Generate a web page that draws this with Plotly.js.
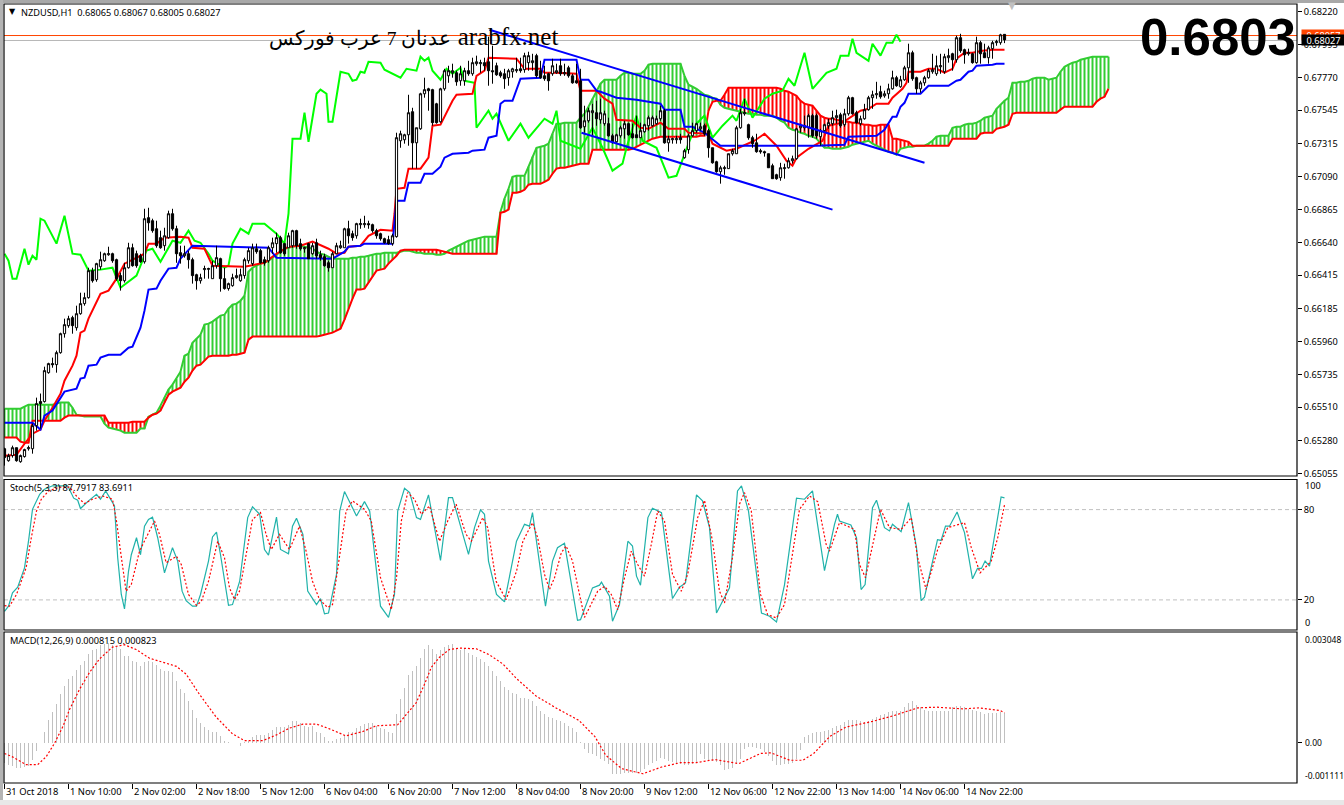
<!DOCTYPE html>
<html><head><meta charset="utf-8">
<script src="https://cdn.plot.ly/plotly-3.0.1.min.js"></script>
<style>html,body{margin:0;padding:0;background:#fff;overflow:hidden}#c{width:1344px;height:805px}</style>
</head><body><div id="c"></div>
<script>
// Prices in points (1 point = 0.00001). Index = hourly bar number.
const high=[65233,65192,65247,65233,65186,65226,65247,65398,65576,65604,
65788,65815,65850,65898,66021,66117,66137,66137,66206,66295,
66295,66466,66466,66500,66576,66569,66610,66569,66528,66432,
66500,66637,66631,66583,66562,66870,66877,66802,66788,66720,
66740,66857,66870,66754,66617,66617,66583,66535,66425,66425,
66480,66466,66514,66617,66535,66466,66364,66425,66460,66460,
66535,66603,66631,66631,66596,66542,66617,66672,66706,66685,
66637,66706,66726,66726,66665,66610,66637,66637,66665,66583,
66562,66514,66576,66637,66651,66740,66788,66720,66774,66802,
66822,66788,66768,66733,66706,66672,66685,66699,67391,67405,
67384,67651,67562,67425,67665,67768,67699,67692,67596,67699,
67829,67850,67864,67816,67850,67836,67884,67905,67919,67891,
67905,68049,67987,67871,67816,67829,67829,67836,67905,67905,
67939,67946,67932,67932,67884,67850,67802,67898,67864,67898,
67864,67850,67795,67864,67829,67576,67562,67589,67610,67624,
67542,67494,67384,67384,67439,67473,67460,67453,67508,67460,
67453,67508,67508,67508,67576,67555,67370,67357,67370,67384,
67281,67384,67460,67460,67460,67453,67418,67288,67199,67165,
67165,67247,67281,67439,67555,67624,67453,67370,67384,67281,
67268,67247,67179,67110,67185,67179,67220,67234,67425,67453,
67508,67521,67521,67521,67418,67453,67487,67542,67549,67528,
67555,67644,67637,67542,67508,67589,67644,67679,67740,67713,
67679,67727,67816,67781,67781,67850,68001,67953,67775,67747,
67781,67829,67932,67919,67932,67932,67967,67939,68056,68069,
67967,67967,67939,68049,68021,68001,67987,68021,68028,68069,68067];
const open=[65226,65144,65179,65233,65137,65172,65226,65226,65384,65549,
65549,65747,65809,65802,65884,66014,66069,66124,66055,66151,
66220,66261,66446,66384,66473,66514,66555,66562,66521,66412,
66377,66466,66603,66562,66548,66507,66809,66788,66733,66672,
66617,66672,66836,66733,66569,66548,66562,66521,66418,66377,
66453,66455,66391,66480,66528,66391,66323,66343,66398,66377,
66412,66514,66494,66596,66583,66521,66514,66603,66631,66672,
66631,66603,66617,66720,66631,66596,66631,66562,66637,66555,
66542,66500,66466,66562,66603,66603,66733,66699,66685,66761,
66761,66768,66761,66720,66699,66665,66658,66631,66679,67336,
67343,67377,67535,67322,67418,67658,67692,67686,67589,67466,
67692,67781,67802,67802,67747,67747,67816,67795,67864,67864,
67871,67877,67816,67850,67802,67795,67768,67809,67816,67829,
67823,67871,67871,67919,67816,67781,67795,67795,67802,67850,
67795,67836,67781,67747,67747,67432,67473,67528,67528,67480,
67453,67453,67370,67329,67370,67418,67453,67384,67377,67357,
67398,67439,67439,67453,67487,67542,67322,67343,67343,67357,
67220,67275,67370,67405,67418,67439,67405,67288,67192,67124,
67145,67145,67247,67247,67425,67521,67446,67357,67322,67268,
67261,67247,67165,67103,67083,67145,67151,67199,67213,67425,
67425,67425,67508,67508,67364,67405,67439,67453,67494,67514,
67446,67521,67631,67528,67453,67487,67549,67631,67651,67672,
67644,67658,67692,67768,67706,67754,67836,67939,67768,67692,
67733,67768,67809,67795,67843,67809,67905,67932,67891,68042,
67960,67932,67932,67871,68008,67939,67905,67967,68008,68008,68065];
const close=[65165,65179,65233,65144,65179,65220,65233,65384,65535,65535,
65761,65809,65802,65884,66014,66076,66117,66069,66151,66220,
66261,66446,66377,66494,66521,66562,66562,66514,66391,66377,
66466,66603,66480,66480,66507,66802,66774,66720,66617,66603,
66685,66836,66733,66562,66548,66562,66521,66412,66377,66398,
66460,66460,66480,66535,66391,66323,66357,66398,66412,66418,
66521,66583,66603,66576,66500,66500,66603,66637,66672,66569,
66562,66685,66720,66617,66596,66603,66528,66617,66548,66535,
66480,66466,66562,66617,66617,66733,66685,66672,66768,66768,
66768,66761,66720,66685,66665,66637,66631,66685,67357,67384,
67377,67528,67322,67425,67658,67686,67679,67460,67460,67692,
67816,67816,67816,67740,67795,67816,67795,67871,67877,67871,
67850,67816,67809,67788,67781,67761,67816,67829,67823,67816,
67919,67919,67884,67781,67768,67761,67747,67850,67816,67795,
67802,67781,67733,67733,67425,67473,67542,67542,67487,67528,
67521,67370,67329,67377,67425,67453,67377,67357,67357,67405,
67446,67494,67494,67487,67542,67322,67350,67350,67350,67343,
67268,67370,67405,67453,67432,67384,67288,67185,67124,67151,
67151,67247,67268,67425,67528,67528,67357,67316,67261,67261,
67254,67151,67076,67076,67151,67151,67199,67213,67418,67439,
67439,67508,67370,67370,67405,67446,67460,67494,67508,67439,
67521,67631,67521,67460,67487,67549,67631,67651,67658,67637,
67658,67692,67768,67713,67754,67836,67939,67761,67692,67733,
67768,67816,67823,67850,67850,67912,67919,67891,68042,67953,
67925,67939,67871,68008,67932,67905,67973,68008,68015,68062,68027];
const low=[65110,65137,65165,65137,65130,65165,65213,65192,65350,65364,
65542,65740,65781,65747,65877,65987,66055,66014,66035,66144,
66206,66254,66364,66370,66453,66507,66548,66500,66377,66309,
66364,66460,66473,66466,66500,66494,66720,66706,66603,66596,
66583,66665,66720,66500,66494,66535,66460,66357,66316,66357,
66391,66391,66391,66460,66302,66316,66309,66336,66391,66370,
66391,66494,66480,66562,66494,66480,66500,66562,66569,66562,
66548,66603,66603,66596,66583,66569,66528,66555,66528,66514,
66473,66439,66466,66562,66596,66603,66631,66651,66665,66733,
66740,66733,66706,66665,66651,66631,66624,66617,66672,67288,
67316,67302,67145,67145,67411,67631,67542,67439,67453,67460,
67679,67733,67768,67713,67713,67713,67781,67781,67850,67802,
67816,67713,67727,67781,67768,67692,67713,67768,67802,67802,
67802,67816,67816,67768,67761,67747,67679,67781,67795,67781,
67781,67768,67727,67727,67418,67391,67460,67370,67439,67453,
67439,67364,67316,67322,67357,67350,67370,67350,67357,67357,
67391,67405,67432,67446,67473,67316,67261,67316,67316,67316,
67213,67247,67364,67391,67405,67370,67220,67179,67117,67042,
67103,67145,67234,67247,67418,67508,67343,67288,67254,67247,
67227,67151,67076,67069,67062,67076,67145,67179,67206,67391,
67405,67357,67357,67350,67302,67391,67418,67439,67453,67425,
67432,67508,67514,67453,67439,67480,67542,67555,67624,67624,
67631,67624,67686,67706,67699,67747,67733,67747,67658,67665,
67713,67761,67795,67781,67795,67795,67871,67816,67871,67939,
67864,67919,67864,67864,67864,67905,67864,67898,67987,67994,68005];

const senkouA=[65500,65500,65500,65500,65500,65514,65528,65528,65528,65528,65528,65528,65528,65535,65542,65542,65542,65507,65459,65453,
65446,65446,65446,65446,65446,65398,65370,65364,65357,65350,65336,65336,65336,65336,65364,65364,65446,65459,65473,65521,
65576,65631,65665,65706,65754,65863,65877,65952,65980,66007,66076,66083,66097,66117,66138,66144,66185,66213,66220,66240,
66274,66439,66466,66480,66494,66500,66514,66535,66555,66576,66596,66603,66610,66617,66617,66610,66603,66596,66576,66562,
66555,66542,66528,66528,66528,66528,66528,66535,66535,66542,66542,66548,66555,66562,66562,66569,66569,66569,66569,66576,
66583,66583,66576,66569,66569,66562,66562,66562,66555,66555,66562,66583,66596,66610,66624,66637,66651,66658,66665,66672,
66679,66679,66679,66679,66850,66939,67007,67089,67096,67096,67096,67158,67227,67288,67295,67302,67316,67384,67453,67453,
67460,67460,67460,67460,67494,67521,67569,67624,67679,67727,67754,67754,67754,67754,67781,67802,67802,67795,67795,67795,
67816,67857,67864,67864,67864,67864,67864,67864,67864,67864,67781,67720,67706,67692,67672,67651,67644,67631,67624,67583,
67562,67555,67549,67542,67535,67528,67521,67521,67514,67514,67508,67508,67508,67494,67473,67460,67425,67411,67405,67391,
67384,67370,67364,67350,67316,67288,67288,67281,67281,67281,67288,67295,67309,67316,67322,67329,67336,67316,67302,67288,
67275,67261,67254,67240,67281,67288,67295,67295,67302,67302,67302,67316,67336,67364,67370,67370,67370,67425,67432,67432,
67446,67453,67453,67460,67473,67494,67501,67508,67555,67583,67610,67631,67733,67733,67740,67740,67747,67761,67768,67768,
67768,67754,67761,67768,67809,67843,67857,67871,67877,67891,67898,67905,67912,67912,67912,67912,67912];
const senkouB=[65302,65302,65302,65302,65274,65267,65267,65418,65418,65418,65418,65418,65418,65418,65418,65439,65453,65453,65453,65453,
65453,65453,65453,65453,65453,65453,65404,65404,65404,65404,65404,65404,65411,65411,65411,65411,65439,65459,65466,65487,
65542,65596,65617,65631,65644,65685,65713,65761,65795,65802,65829,65857,65863,65863,65863,65863,65863,65870,65870,65877,
65884,65973,65994,65994,65994,65994,65994,65994,65994,65994,65994,65994,65994,65994,65994,65994,65994,65994,65994,66000,
66007,66014,66021,66035,66048,66110,66185,66254,66316,66316,66323,66364,66405,66446,66453,66460,66494,66521,66548,66583,
66589,66589,66589,66589,66589,66589,66589,66589,66589,66583,66576,66569,66562,66562,66562,66562,66562,66562,66562,66562,
66562,66562,66562,66562,66843,66850,66864,66980,66980,66987,67000,67035,67041,67041,67041,67055,67069,67110,67145,67151,
67151,67158,67165,67172,67179,67179,67179,67275,67275,67275,67275,67275,67275,67275,67275,67275,67275,67281,67295,67309,
67322,67336,67350,67357,67364,67364,67364,67364,67364,67364,67364,67364,67364,67364,67370,67370,67542,67603,67610,67610,
67651,67699,67699,67699,67699,67699,67699,67699,67699,67699,67699,67699,67699,67699,67692,67679,67672,67658,67644,67610,
67590,67583,67576,67542,67508,67494,67487,67487,67480,67473,67466,67466,67460,67460,67453,67446,67446,67439,67439,67446,
67446,67446,67350,67350,67343,67336,67329,67302,67302,67302,67302,67302,67302,67302,67302,67302,67302,67350,67350,67350,
67350,67350,67350,67350,67384,67391,67391,67391,67418,67425,67432,67446,67521,67528,67528,67528,67528,67528,67528,67528,
67528,67528,67528,67528,67549,67569,67569,67569,67569,67569,67569,67569,67569,67603,67624,67637,67692];

const tenkanIdx=[0,3,5,7,9,10,12,14,15,17,18,19,20,21,24,26,28,30,35,36,38,40,44,46,47,50,52,60,65,68,71,74,77,81,83,85,86,89,91,94,97,97.5,98,100,101,104,106,107,109,112,113,117,118,120,121,128,130,134,135,138,143,144,148,150,152,153,157,159,161,164,166,170,171,176,177,180.5,183,186,187.5,190,193,195.5,197,198,201,204.5,206,209.5,214,216,218,221,222,224.5,225.5,226,229,231,233,235,237,238,240,242,244.5,247,250];
const tenkan=[65178,65185,65260,65329,65357,65418,65507,65603,65692,65795,65863,66021,66035,66117,66288,66309,66391,66494,66562,66631,66631,66672,66679,66672,66603,66596,66480,66473,66500,66562,66610,66617,66645,66596,66562,66569,66610,66617,66685,66726,66720,66836,67007,67014,67145,67145,67220,67439,67446,67610,67651,67658,67781,67816,67905,67898,67829,67829,67802,67802,67795,67679,67679,67624,67590,67480,67473,67425,67418,67460,67418,67418,67391,67384,67316,67268,67281,67316,67336,67384,67302,67199,67165,67220,67281,67336,67439,67460,67542,67555,67590,67590,67631,67692,67733,67809,67809,67829,67829,67802,67829,67898,67939,67939,67953,67960,67960];

const kijunIdx=[0,7,9,10,12,15,18,19,20,21,23,24,26,29,31,32,34,35,36,38,39,41,43,44,47,66,68,82,85,86,89,90,97,98,100,101,104,105,107,109,110,112,116,117,120,121,123,124,125,127,129,134,135,143,144,146,148,149,153,158,164,165,169,170,172,175,179,203,210,211,218,220,222,223,224,225,226,229,231,236,238,239,241,242,243,247,248,250];
const kijun=[65404,65404,65357,65453,65487,65617,65637,65706,65713,65795,65802,65850,65870,65870,65918,65925,66055,66172,66316,66323,66377,66460,66466,66528,66617,66603,66535,66528,66576,66610,66617,66631,66631,66925,66925,67048,67048,67110,67110,67158,67220,67247,67254,67268,67275,67357,67370,67590,67610,67610,67761,67768,67891,67891,67754,67754,67679,67672,67631,67617,67590,67549,67549,67432,67432,67391,67302,67302,67309,67364,67370,67411,67501,67501,67569,67596,67658,67658,67713,67713,67747,67754,67809,67816,67850,67857,67864,67864];

const chikouIdx=[0,1,2,3,5,6,7,8,9,10,13,15,17,19,21,24,27,29,33,35.5,37,39,42,44,46,47.5,49,51,52,55,56,57,59,61,62,65,68,70,71,72,74,75,76,78,79,80.5,81,82,84,86,87,88,89,90,91,94,95,99,100.5,103,104,105,106,107,109,110.5,112,114,115,117.5,118,121,122,123,126,129,131,135,137,138,139,144,147,149.5,152,154.5,155.5,158,159.5,163,166,168,171,173,175,177,179.5,182,183,185,187,190,192,194.5,196,197.5,200,202,205.5,208,209,211,212,213,216,217,219,220.5,222,223,224];
const chikou=[66562,66514,66391,66391,66596,66487,66548,66521,66802,66788,66631,66822,66562,66555,66446,66453,66466,66329,66412,66583,66596,66507,66651,66637,66720,66651,66637,66562,66514,66466,66480,66631,66733,66699,66768,66768,66699,66631,66836,67350,67350,67528,67329,67658,67686,67658,67466,67466,67809,67795,67747,67754,67809,67802,67877,67871,67823,67768,67829,67816,67912,67884,67905,67816,67754,67829,67795,67836,67747,67733,67425,67542,67487,67521,67336,67453,67357,67487,67453,67542,67336,67281,67425,67288,67131,67179,67288,67508,67336,67288,67083,67096,67316,67453,67508,67357,67439,67508,67473,67624,67494,67624,67658,67679,67761,67713,67939,67692,67802,67829,67919,67919,68035,67939,67884,68001,67919,68008,68008,68062,68015];

const trendUpperIdx=[121.25,230], trendUpper=[68096,67185];
const trendLowerIdx=[144.25,207], trendLower=[67391,66864];
const askPoints=68057, bidPoints=68027, bidLinePoints=68023;

const stochIdx=[0,1,2,3.3,5,6,7,8.8,10,12,15.8,17.3,18.3,19,21,23,24,25.3,27.5,28.3,29.2,30,31,31.7,33,34,35,36,37,38.3,40,42,43.3,44.4,45.4,47,48,49,51,52,53,54,56,57,58.8,60.8,62,63.8,65,66,68,69,71,72,73,74.6,75.8,78,79,80,81,83,83.8,85,88,90,91.3,94,96,97.5,98.3,100,101.3,103,104,106,109,111,112,116,117.5,119,120,121,123,125,128,130,131.25,132,135.25,137,138.25,140,143.25,144,147,148.75,149.25,151.25,152,153.75,155.85,157,158,159,160.85,162,164.25,167,168.75,170.25,173,174.5,176.25,178,181.25,183.25,184.25,186,189.25,191.25,193,195,198,200,202,202.75,205,207.5,208.25,208.75,211.6,213,214.15,215.15,217,218,220,221.25,222,224.15,226,228,229.15,230,233.25,234.15,235.25,236.25,238.15,240,242,243.25,244.25,245.15,246.25,249.15,250];
const stochMain=[12.4,15.8,24.7,28.4,41.3,59,80.2,90.2,93.6,95.8,95.8,87.6,86.2,80.7,85.8,90.2,86.9,92.4,82.4,48,23.6,14,39,50,61.3,50,69,73.5,75,61.3,38,54.7,45.8,25.8,19.5,15.8,15.8,23.6,45.8,61.8,65,50,16.4,16.9,32.4,74.7,81.8,76.9,53.5,49.8,75,53.5,50.7,69,74.2,63.5,25.8,16.9,20.9,10.7,11.3,37,79,92,75.8,85.3,79,15.8,8.4,23.6,79,94.2,91.3,74.7,73.5,89.8,46.2,88,88,50.2,68,79.8,76.9,45.8,23.6,18.7,59,70.2,69,78,15.8,45.8,54.7,57.6,6.4,6.9,28,29.8,31.8,22.4,5.8,16.9,59,55.8,35.8,29.8,74.7,80.9,78,20.9,28.4,31.3,89.8,85.8,68,11.3,28,92.4,95.8,79,11.3,9.1,5.3,30,87.6,86.9,92.4,79,39.5,70.2,76.9,72.4,69.8,61.3,26.9,30.2,81.3,86.2,68,65.8,70.2,65.3,84.7,54.7,19.5,21.8,60,59.5,69,69,78.4,64.7,34,40.9,40.9,45.8,42.4,88.4,87.79];
const stochSigIdx=[0,1.25,3,5.4,6.7,8,9.2,11,13.75,16.25,18,20,22,24.6,27,28,29,30.4,31.7,33.75,35.4,37.5,38.75,40.4,43,44.2,46,48,49.2,51,53.3,55,56.25,57.5,58.75,60.8,62,64,65.4,66.7,68.75,71.25,73.75,75.4,77,78.75,80.8,82,83.75,85.4,87,90,91.7,94,96.7,98,99.2,100.8,102.5,104.2,106.25,108.75,110.8,112.9,115.4,116.7,119.6,120.8,122.9,125.4,128,129.6,132,133.3,135,136.25,137.5,139.2,140.4,142,143.75,145,148.3,150,151.7,153.3,155,156.7,158.3,160,161.7,163.3,165,167,169.2,170.8,173.3,175,177,178.75,180,182,183.75,185,186.7,189,190.8,193,195,197,198.75,201.25,203.3,205.4,206.25,208.75,212.5,213.75,215.25,216.7,219,221.25,224.2,226.7,228.3,230.4,233.3,235.8,240,241.7,243.9,246.7,248.3,250];
const stochSignal=[16.2,15.8,23.6,41.3,61.3,79,86.9,92.4,95,95,89,84,86.9,89,86.9,72.4,52.4,25.8,30.2,52.4,61.3,72.4,63.5,44.7,49,43.5,23.6,16.4,19,32.4,59,48,28,20.2,25.8,57,73.5,78,63.5,53.5,63.5,53.5,69,52.4,32.4,20.2,15,16.9,48,79,85.8,80.2,72.4,34.7,13.5,34.7,72.4,91.3,86.9,76.9,82.4,59,72.4,83.6,63.5,59,74.7,68,32.4,20.2,39,59,71.3,61.3,37,27,34.7,51.3,55.8,45.8,23.6,8.4,25.8,29,23.6,13.5,34.7,52.4,43.5,35.8,56.9,79,72.4,37,25.8,37,74.7,86.2,59,25.8,18,48,83.6,91.3,79,23.6,10.2,8,16.9,52.4,80.2,89,85.3,57,52.4,71.3,66.9,43.5,34.7,52.4,80.2,68,66.9,74.7,48,27,53.5,68,71.3,54.7,38,45.8,61.3,83.1];
const stochLevels=[80,20];

// MACD in millionths
const macdHist=[-558,-623,-651,-688,-698,-670,-651,-484,-223,0,307,614,837,1060,1330,1562,1767,1841,2009,2139,
2260,2446,2539,2585,2678,2725,2753,2678,2632,2585,2381,2399,2260,2213,2102,2232,2260,2213,2139,2027,
1981,1981,1934,1702,1488,1358,1144,911,679,539,428,353,307,307,186,47,28,0,-19,-84,
28,56,149,214,214,214,279,353,428,428,428,493,586,586,539,465,428,446,307,260,
149,56,56,102,121,214,307,307,400,446,521,539,539,446,400,372,307,279,800,1209,
1516,1860,1962,2102,2325,2567,2678,2567,2446,2539,2632,2678,2706,2604,2539,2567,2474,2418,2353,2306,
2232,2120,1981,1841,1702,1544,1451,1358,1330,1237,1237,1190,1144,1004,865,800,707,679,632,586,
539,465,400,307,28,-177,-298,-316,-372,-437,-502,-595,-856,-874,-856,-837,-837,-837,-828,-809,
-716,-623,-558,-512,-428,-446,-502,-539,-577,-595,-623,-614,-595,-530,-316,-437,-465,-502,-530,-623,
-744,-716,-688,-577,-437,-186,-121,-112,-149,-186,-260,-372,-502,-605,-614,-595,-577,-558,-437,-205,
149,214,279,298,307,335,353,409,446,484,558,623,632,632,586,558,605,651,707,763,
800,837,865,865,865,977,1097,1135,1032,986,911,865,865,865,865,874,884,977,1023,1014,
986,930,911,884,846,800,809,818,828,837,815];
const macdSigIdx=[0,2,5.4,8.3,10.4,12.5,14.6,16.25,18.75,21.25,23.75,27,30,32.9,36.25,39.6,43,45.4,48.75,52.9,57,60,64.6,68,71.25,74.6,78,81.25,85.4,89.6,92.9,98.3,100.8,102.9,105,106.7,108.75,111.25,113.75,118,121.25,124.6,128,132.9,138.3,143.6,147.6,150.3,154.3,159.6,164.3,169,173,177.6,183.6,189,191.6,196.3,199.6,202.3,206.3,210.3,217,222.3,228.3,233,239.6,243.6,249,250];
const macdSignal=[-298,-391,-605,-605,-391,-19,446,911,1469,1934,2306,2632,2697,2567,2325,2213,2102,1888,1330,707,242,56,56,214,400,511,511,381,186,307,465,493,818,1097,1609,2074,2353,2567,2604,2585,2418,2167,1767,1283,930,614,167,-344,-716,-856,-670,-549,-549,-465,-577,-298,-279,-484,-484,-298,167,428,586,744,958,977,930,958,884,823];

const priceTicks=[0.6822,0.67995,0.6777,0.67545,0.67315,0.6709,0.66865,0.6664,0.66415,0.66185,0.6596,0.65735,0.6551,0.6528,0.65055];
const dateTicks=["31 Oct 2018","1 Nov 10:00","2 Nov 02:00","2 Nov 18:00","5 Nov 12:00","6 Nov 04:00","6 Nov 20:00","7 Nov 12:00","8 Nov 04:00","8 Nov 20:00","9 Nov 12:00","12 Nov 06:00","12 Nov 22:00","13 Nov 14:00","14 Nov 06:00","14 Nov 22:00"];

const P=a=>a.map(v=>v/1e5), M=a=>a.map(v=>v/1e6);
const bars=open.map((_,i)=>i);
const tf="Noto Sans, Liberation Sans, sans-serif";
const L=1293,Htot=780;
const px=x=>(x-4)/L, py=y=>(784-y)/Htot;

// cloud hatch
function hatch(up){
  const x=[],y=[];
  senkouA.forEach((a,i)=>{const b=senkouB[i];
    if(b===undefined)return;
    if((a>=b)===up){x.push(i,i,null);y.push(a/1e5,b/1e5,null);}
  });
  return {x,y,type:'scatter',mode:'lines',line:{color:up?'#32cd32':'#ff0000',width:2},hoverinfo:'skip',showlegend:false,xaxis:'x',yaxis:'y'};
}
const line=(x,y,color,width,yaxis,dash)=>({x,y,type:'scatter',mode:'lines',line:{color,width,dash:dash||'solid'},hoverinfo:'skip',showlegend:false,xaxis:'x',yaxis});

const traces=[
 hatch(true),hatch(false),
 line(senkouA.map((_,i)=>i),P(senkouA),'#32cd32',2,'y'),
 line(senkouB.map((_,i)=>i),P(senkouB),'#ff0000',2,'y'),
 line(chikouIdx,P(chikou),'#00ff00',2,'y'),
 line(tenkanIdx,P(tenkan),'#ff0000',2,'y'),
 line(kijunIdx,P(kijun),'#0000ff',2,'y'),
 {type:'candlestick',x:bars,open:P(open),high:P(high),low:P(low),close:P(close),xaxis:'x',yaxis:'y4',
  increasing:{line:{color:'#000',width:1},fillcolor:'#fff'},decreasing:{line:{color:'#000',width:1},fillcolor:'#000'},
  whiskerwidth:0,hoverinfo:'skip',showlegend:false},
 line(trendUpperIdx,P(trendUpper),'#0000ff',2,'y4'),
 line(trendLowerIdx,P(trendLower),'#0000ff',2,'y4'),
 line(stochIdx,stochMain,'#20b2aa',1.2,'y2'),
 line(stochSigIdx,stochSignal,'#ff0000',1.2,'y2','2px,2px'),
 {type:'bar',x:bars,y:M(macdHist),xaxis:'x',yaxis:'y3',width:0.25,marker:{color:'#c0c0c0',line:{width:0}},hoverinfo:'skip',showlegend:false},
 line(macdSigIdx,M(macdSignal),'#ff0000',1.2,'y3','2px,2px')
];

const frame=(y0,y1)=>({type:'rect',xref:'paper',yref:'paper',x0:0,x1:1,y0:py(y1),y1:py(y0),line:{color:'#000',width:1.2},fillcolor:'rgba(0,0,0,0)',layer:'above'});
const hl=(yref,v,color,dash)=>({type:'line',xref:'paper',yref,x0:0,x1:1,y0:v,y1:v,line:{color,width:1,dash:dash||'solid'},layer:'below'});
const edge=(x0,x1,y0,y1,c)=>({type:'rect',xref:'paper',yref:'paper',x0:px(x0),x1:px(x1),y0:py(y1),y1:py(y0),line:{width:0},fillcolor:c,layer:'above'});

const FS=9.2;
const label=(x,y,text,o)=>Object.assign({xref:'paper',yref:'paper',x:px(x),y:py(y),text,showarrow:false,xanchor:'left',yanchor:'middle',font:{family:tf,size:FS,color:'#000'},borderpad:0},o||{});
const small={font:{family:tf,size:8.5,color:'#000'}};

const annotations=[
 label(8,12,'▼',{font:{family:'DejaVu Sans',size:8,color:'#000'}}),
 label(20,12.5,'NZDUSD,H1  0.68065 0.68067 0.68005 0.68027'),
 label(9,487,'Stoch(5,3,3) 87.7917 83.6911'),
 label(9,640,'MACD(12,26,9) 0.000815 0.000823'),
 label(1007,6,'▼',{font:{family:'DejaVu Sans',size:10,color:'#c0c0c0'}}),
 label(268,37,'<span style="font-size:19.6px">عدنان 7 عرب فوركس</span> arabfx.net',{font:{family:'Liberation Serif, DejaVu Serif, serif',size:25,color:'#000'}}),
 label(1297,38,'<b>0.6803</b>',{xanchor:'right',font:{family:'Liberation Sans',size:51,color:'#000'}}),
 label(1304,485,'100'),label(1304,622,'0'),
 label(1304,639,'0.003048',small),label(1304,742,'0.00',small),label(1304,775,'-0.001111',small),
 label(1301,35,(askPoints/1e5).toFixed(5),{bgcolor:'#ff4500',font:{family:tf,size:FS,color:'#fff'},width:43,height:10,align:'center'}),
 label(1301,40.5,(bidPoints/1e5).toFixed(5),{bgcolor:'#000',font:{family:tf,size:FS,color:'#fff'},width:43,height:10,align:'center'})
].concat(dateTicks.map((t,i)=>label(5+64*i,791.5,t,{font:{family:tf,size:9.4,color:'#000'}})));

const layout={
 width:1344,height:805,paper_bgcolor:'#fff',plot_bgcolor:'#fff',showlegend:false,dragmode:false,
 margin:{l:4,r:47,t:4,b:21,pad:0},bargap:0,boxgap:0.45,boxgroupgap:0,
 xaxis:{domain:[0,1],range:[-0.125,323.125],anchor:'y3',tickmode:'array',tickvals:dateTicks.map((_,i)=>i*16),showticklabels:false,
  ticks:'outside',ticklen:5,tickcolor:'#000',showgrid:false,zeroline:false,rangeslider:{visible:false},showline:false},
 yaxis:{domain:[py(476),1],range:[0.65039,0.68273],side:'right',tickmode:'array',tickvals:priceTicks,tickformat:'.5f',
  ticks:'outside',ticklen:4,tickcolor:'#000',tickfont:{family:tf,size:FS,color:'#000'},showgrid:false,zeroline:false,showline:false},
 yaxis4:{overlaying:'y',range:[0.65039,0.68273],side:'right',showticklabels:false,ticks:'',showgrid:false,zeroline:false},
 yaxis2:{domain:[py(630),py(479.5)],range:[0,100],side:'right',tickmode:'array',tickvals:stochLevels,
  ticks:'outside',ticklen:4,tickcolor:'#000',tickfont:{family:tf,size:FS,color:'#000'},showgrid:false,zeroline:false},
 yaxis3:{domain:[py(783),py(632)],range:[-0.001111,0.003048],side:'right',tickmode:'array',tickvals:[0],ticktext:[''],
  ticks:'outside',ticklen:4,tickcolor:'#000',showgrid:false,zeroline:false},
 shapes:[
  hl('y',askPoints/1e5,'#ff4500'),hl('y',bidLinePoints/1e5,'#b8b8b8'),
  hl('y2',stochLevels[0],'#c0c0c0','4px,3px'),hl('y2',stochLevels[1],'#c0c0c0','4px,3px'),
  frame(4,476),frame(479.5,630),frame(632,783),
  edge(0,1344,0,3,'#a8a8a8'),edge(0,3,0,805,'#b4b4b4'),edge(0,1344,800,805,'#e8e8e8')
 ],
 annotations
};
Plotly.newPlot('c',traces,layout,{displayModeBar:false,staticPlot:true});
</script></body></html>
